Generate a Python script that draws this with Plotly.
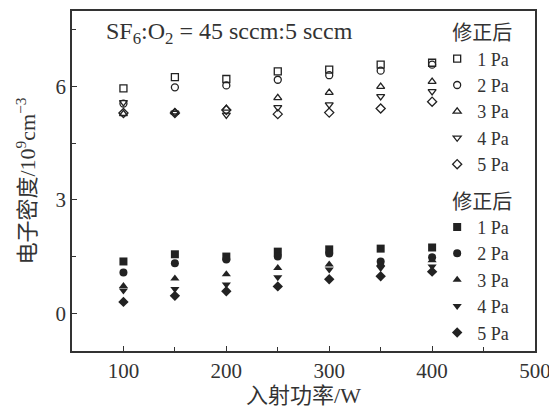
import plotly.graph_objects as go

power = [100, 150, 200, 250, 300, 350, 400]
labels = ["1 Pa", "2 Pa", "3 Pa", "4 Pa", "5 Pa"]

# corrected (open markers)
open_1pa = [5.95, 6.25, 6.2, 6.4, 6.45, 6.58, 6.63]
open_2pa = [5.55, 5.98, 6.03, 6.18, 6.3, 6.42, 6.58]
open_3pa = [5.28, 5.32, 5.42, 5.7, 5.84, 6.0, 6.13]
open_4pa = [5.58, 5.3, 5.25, 5.45, 5.52, 5.74, 5.87]
open_5pa = [5.3, 5.3, 5.38, 5.27, 5.31, 5.42, 5.6]

# second group (filled markers)
fill_1pa = [1.37, 1.56, 1.5, 1.63, 1.69, 1.71, 1.74]
fill_2pa = [1.08, 1.32, 1.42, 1.5, 1.58, 1.37, 1.48]
fill_3pa = [0.72, 0.92, 1.03, 1.2, 1.29, 1.3, 1.4]
fill_4pa = [0.6, 0.64, 0.76, 0.95, 1.16, 1.2, 1.24]
fill_5pa = [0.3, 0.46, 0.58, 0.71, 0.9, 0.98, 1.1]

open_sets = [open_1pa, open_2pa, open_3pa, open_4pa, open_5pa]
fill_sets = [fill_1pa, fill_2pa, fill_3pa, fill_4pa, fill_5pa]
open_symbols = ["square-open", "circle-open", "triangle-up-open", "triangle-down-open", "diamond-open"]
fill_symbols = ["square", "circle", "triangle-up", "triangle-down", "diamond"]

FONT = "Liberation Serif, Noto Sans CJK SC, serif"
INK = "#222222"
TXT = "#333333"

fig = go.Figure()
for lab, ys, sym in zip(labels, open_sets, open_symbols):
    fig.add_trace(go.Scatter(
        x=power, y=ys, mode="markers", name=lab, legend="legend",
        marker=dict(symbol=sym, size=7, color=INK, line=dict(width=1.3, color=INK)),
    ))
for lab, ys, sym in zip(labels, fill_sets, fill_symbols):
    fig.add_trace(go.Scatter(
        x=power, y=ys, mode="markers", name=lab, legend="legend2",
        marker=dict(symbol=sym, size=8, color=INK, line=dict(width=0)),
    ))

axis_common = dict(
    showline=True, linecolor="#333333", linewidth=1.5, mirror=True,
    ticks="inside", ticklen=5, tickwidth=1.2, tickcolor="#333333",
    showgrid=False, zeroline=False, automargin=False,
    tickfont=dict(family=FONT, size=21, color=TXT),
)

legend_common = dict(
    x=0.955, xanchor="right", yanchor="top",
    bgcolor="rgba(0,0,0,0)", font=dict(family=FONT, size=18, color=TXT),
    tracegroupgap=0, itemwidth=30,
)

# page body has an 8px margin, so the figure is offset by (8, 8)
fig.update_layout(
    width=549, height=400,
    margin=dict(l=64, r=22, t=3, b=57),
    paper_bgcolor="white", plot_bgcolor="white",
    font=dict(family=FONT, size=19, color=TXT),
    xaxis=dict(range=[50, 500], tick0=100, dtick=100,
               minor=dict(dtick=50, tick0=50, ticks="inside", ticklen=4, tickcolor="#333333"),
               title=dict(text="入射功率/W", font=dict(family=FONT, size=22, color=TXT), standoff=4),
               **axis_common),
    yaxis=dict(range=[-1, 8], tick0=0, dtick=3,
               minor=dict(dtick=1.5, tick0=0, ticks="inside", ticklen=4, tickcolor="#333333"),
               title=dict(text="电子密度/10<sup>9</sup>cm<sup>−3</sup>", font=dict(family=FONT, size=22, color=TXT), standoff=14),
               **axis_common),
    legend=dict(y=0.99,
                title=dict(text="修正后", side="top right", font=dict(family=FONT, size=20, color=TXT)),
                **legend_common),
    legend2=dict(y=0.495,
                 title=dict(text="修正后", side="top right", font=dict(family=FONT, size=20, color=TXT)),
                 **legend_common),
    annotations=[dict(
        x=0.07, y=0.985, xref="paper", yref="paper", xanchor="left", yanchor="top",
        text="SF<sub>6</sub>:O<sub>2</sub>&nbsp;=&nbsp;45&nbsp;sccm:5&nbsp;sccm", showarrow=False,
        font=dict(family=FONT, size=24, color=TXT),
    )],
)

fig.write_html("out.html")
